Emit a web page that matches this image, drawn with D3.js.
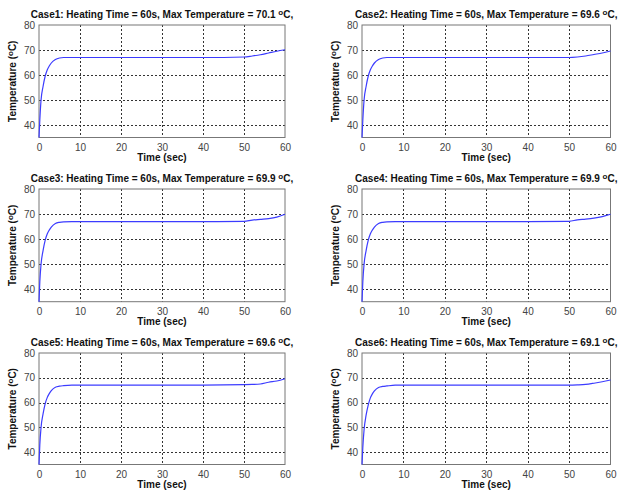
<!DOCTYPE html>
<html><head><meta charset="utf-8">
<script src="https://cdn.jsdelivr.net/npm/d3@7"></script>
<style>body{margin:0;background:#fff}svg{display:block}</style>
</head><body>
<script>
const timeSec = [0, 0.2, 0.5, 1, 1.5, 2, 2.5, 3, 4, 5, 6, 8, 10, 20, 30, 40, 50, 52, 54, 56, 58, 60];
const case1Temp = [35, 42, 50, 55.5, 59.5, 62, 63.6, 64.8, 66.2, 66.8, 67, 67, 67, 67, 67, 67, 67.2, 67.6, 68.1, 68.8, 69.5, 70.1];
const case2Temp = [35, 42, 50, 55.5, 59.5, 62, 63.6, 64.8, 66.2, 66.8, 67, 67, 67, 67, 67, 67, 67.0, 67.2, 67.6, 68.2, 68.8, 69.6];
const case3Temp = [35, 43, 50, 55.5, 59.5, 62, 63.6, 64.8, 66.2, 66.7, 66.9, 67, 67, 67, 67, 67, 67.1, 67.6, 67.9, 68.2, 68.8, 69.9];
const case4Temp = [35, 43, 50, 55.5, 59.5, 62, 63.6, 64.8, 66.2, 66.7, 66.9, 67, 67, 67, 67, 67, 67.1, 67.7, 68.0, 68.4, 69.0, 69.9];
const case5Temp = [35, 43, 50, 55.5, 59.5, 62, 63.6, 64.8, 66.2, 66.6, 66.8, 67, 67, 67, 67, 67, 67.2, 67.3, 67.5, 68.2, 68.7, 69.6];
const case6Temp = [35, 42, 49, 55, 59, 61.8, 63.5, 64.7, 66.1, 66.5, 66.7, 67, 67, 67, 67, 67, 67.0, 67.1, 67.3, 67.8, 68.4, 69.1];
const caseNames = ["Case1", "Case2", "Case3", "Case4", "Case5", "Case6"];
const maxTemps = ["70.1", "69.6", "69.9", "69.9", "69.6", "69.1"];
const heatingTime = "60s";
const xTicks = [0, 10, 20, 30, 40, 50, 60];
const yTicks = [40, 50, 60, 70, 80];
const xDomain = [0, 60];
const yDomain = [35, 80];
const allTemps = [case1Temp, case2Temp, case3Temp, case4Temp, case5Temp, case6Temp];

const W = 619, H = 495;
const svg = d3.select("body").append("svg").attr("width", W).attr("height", H);
const colX = [[39, 285], [362, 610.5]];
const rowY = [[25, 137.5], [189, 301.7], [353, 464.5]];

allTemps.forEach((temps, i) => {
  const col = i % 2, row = Math.floor(i / 2);
  const [x0, x1] = colX[col], [y0, y1] = rowY[row];
  const x = d3.scaleLinear().domain(xDomain).range([x0, x1]);
  const y = d3.scaleLinear().domain(yDomain).range([y1, y0]);
  const g = svg.append("g");

  // grid
  g.selectAll(".gx").data(xTicks.slice(1, -1)).join("line")
    .attr("x1", d => Math.round(x(d)) + 0.5).attr("x2", d => Math.round(x(d)) + 0.5)
    .attr("y1", y0).attr("y2", y1)
    .attr("stroke", "#333").attr("stroke-width", 1).attr("stroke-dasharray", "2,2");
  g.selectAll(".gy").data(yTicks.slice(0, -1)).join("line")
    .attr("y1", d => Math.round(y(d)) + 0.5).attr("y2", d => Math.round(y(d)) + 0.5)
    .attr("x1", x0).attr("x2", x1)
    .attr("stroke", "#333").attr("stroke-width", 1).attr("stroke-dasharray", "2,2");

  // frame
  g.append("rect").attr("x", x0).attr("y", y0).attr("width", x1 - x0).attr("height", y1 - y0)
    .attr("fill", "none").attr("stroke", "#777").attr("stroke-width", 1);

  // axes ticks & labels
  const ax = g.append("g").attr("transform", `translate(0,${y1})`)
    .call(d3.axisBottom(x).tickValues(xTicks).tickSize(0).tickPadding(6));
  ax.select(".domain").remove();
  ax.selectAll("text").attr("font-family", "Liberation Sans, Arial, sans-serif")
    .attr("font-size", 10).attr("fill", "#444");
  const ay = g.append("g").attr("transform", `translate(${x0},0)`)
    .call(d3.axisLeft(y).tickValues(yTicks).tickSize(0).tickPadding(4));
  ay.select(".domain").remove();
  ay.selectAll("text").attr("font-family", "Liberation Sans, Arial, sans-serif")
    .attr("font-size", 10).attr("fill", "#444");

  // line
  const line = d3.line().x((d, k) => x(timeSec[k])).y(d => y(d)).curve(d3.curveMonotoneX);
  g.append("path").datum(temps).attr("d", line)
    .attr("fill", "none").attr("stroke", "#3c3cff").attr("stroke-width", 1.2);

  // title
  const t = g.append("text").attr("x", (x0 + x1) / 2).attr("y", y0 - 7)
    .attr("text-anchor", "middle").attr("font-family", "Liberation Sans, Arial, sans-serif")
    .attr("font-size", 10).attr("font-weight", "bold").attr("fill", "#111");
  t.append("tspan").text(`${caseNames[i]}: Heating Time = ${heatingTime}, Max Temperature = ${maxTemps[i]} `);
  t.append("tspan").attr("dy", -3).attr("font-size", 8).text("o");
  t.append("tspan").attr("dy", 3).text("C,");

  // x label
  g.append("text").attr("x", (x0 + x1) / 2).attr("y", y1 + 23.5).attr("text-anchor", "middle")
    .attr("font-family", "Liberation Sans, Arial, sans-serif").attr("font-size", 10)
    .attr("font-weight", "bold").attr("fill", "#111").text("Time (sec)");

  // y label
  const yl = g.append("text").attr("transform", `translate(${x0 - 23},${(y0 + y1) / 2}) rotate(-90)`)
    .attr("text-anchor", "middle").attr("font-family", "Liberation Sans, Arial, sans-serif")
    .attr("font-size", 10).attr("font-weight", "bold").attr("fill", "#111");
  yl.append("tspan").text("Temperature (");
  yl.append("tspan").attr("dy", -3).attr("font-size", 8).text("o");
  yl.append("tspan").attr("dy", 3).text("C)");
});
</script>
</body></html>
